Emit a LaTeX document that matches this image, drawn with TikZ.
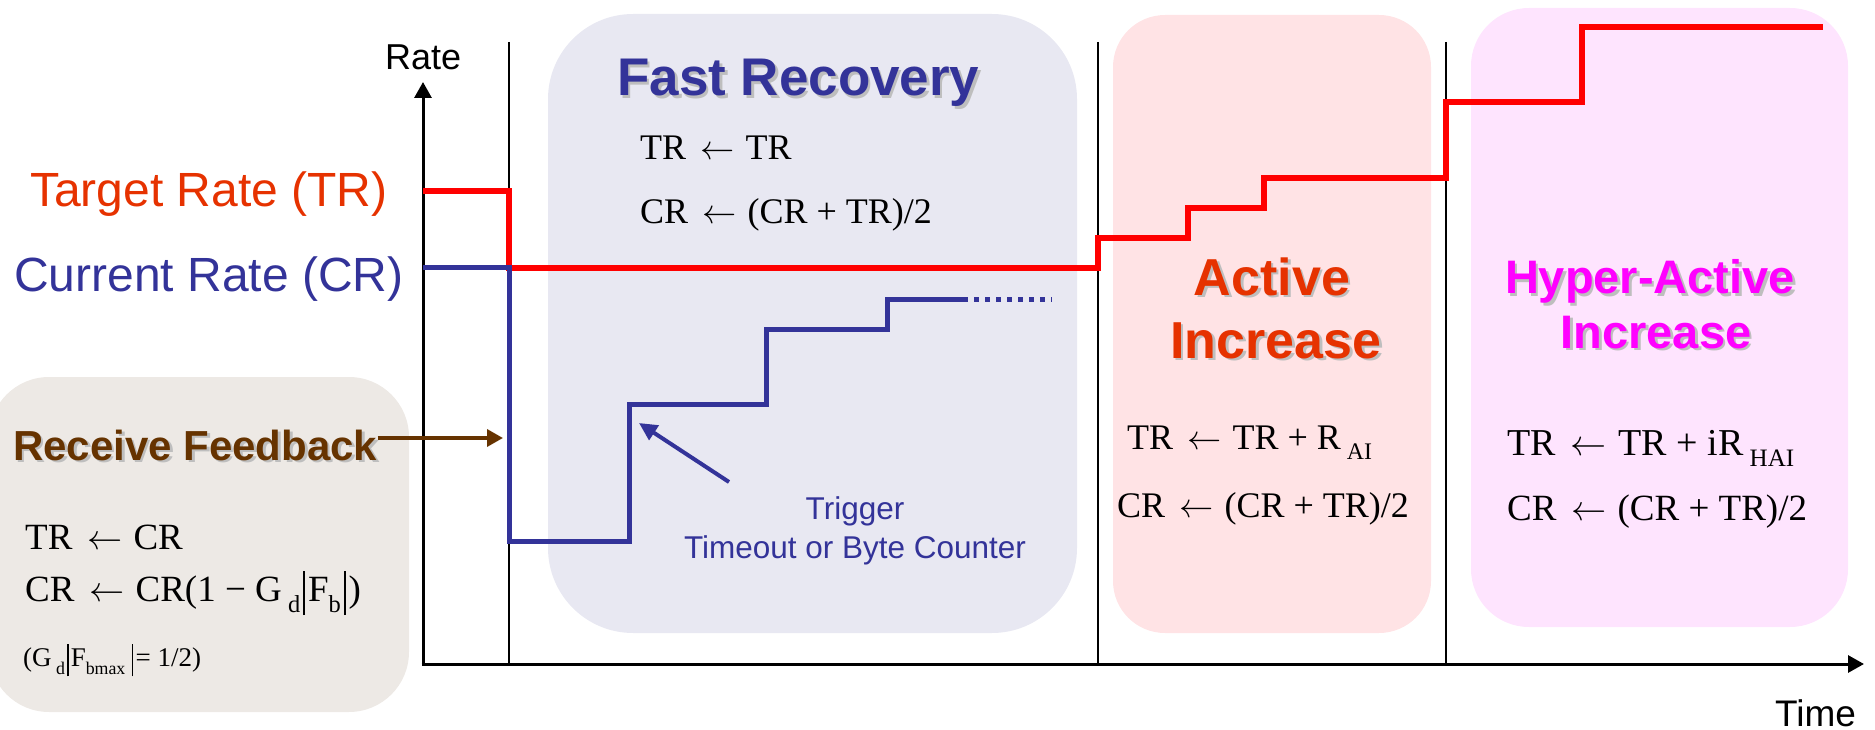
\documentclass[tikz,border=0pt]{standalone}
\usepackage{fontspec}
\usepackage{graphicx}
\setmainfont{Liberation Serif}
\newfontfamily\arial{Liberation Sans}
\usetikzlibrary{arrows.meta}

\definecolor{frblue}{RGB}{51,51,153}
\definecolor{aired}{RGB}{230,50,0}
\definecolor{hamag}{RGB}{255,0,255}
\definecolor{fbbrown}{RGB}{102,51,0}
\definecolor{rfbox}{RGB}{237,233,229}
\definecolor{frbox}{RGB}{232,232,242}
\definecolor{aibox}{RGB}{255,227,229}
\definecolor{habox}{RGB}{254,228,254}
\definecolor{shadowgray}{RGB}{190,190,190}

\newcommand\fsz[1]{\fontsize{#1}{#1}\selectfont}
% assignment arrow, tall absolute-value bar and lowered small subscript
\newcommand\larr{\hspace{0.4em}\resizebox{0.95em}{!}{$\leftarrow$}\hspace{0.3em}}
\newcommand\tallbar{\kern0.08em\raisebox{-0.38em}{\rule{0.05em}{1.18em}}\kern0.08em}
\newcommand\lowsub[1]{\raisebox{-0.3em}{\scalebox{0.66}{#1}}}
% bold title text with a soft grey drop shadow
\newcommand\withshadow[1]{\leavevmode\rlap{\kern2.5pt\raisebox{-2.5pt}{\textcolor{shadowgray}{#1}}}#1}

\begin{document}
\begin{tikzpicture}[x=1pt,y=-1pt,
  phase/.style={draw=none, inner sep=0pt, outer sep=0pt},
  txt/.style={inner sep=0pt, anchor=base west},
  ctxt/.style={inner sep=0pt, anchor=base},
  eq/.style={txt, font=\fsz{36}},
  title/.style={ctxt, font=\arial\bfseries},
  divider/.style={line width=1.8pt, black},
  axis/.style={line width=3pt, -{Triangle[length=16pt,width=17pt]}},
  rateline/.style={line width=5.5pt},
]
\useasboundingbox (0,0) rectangle (1875,730);

% phase backgrounds
\node[phase, fill=rfbox, rounded corners=60pt, minimum width=420pt, minimum height=335pt] (rfbg) at (199,544.5) {};
\node[phase, fill=frbox, rounded corners=85pt, minimum width=529pt, minimum height=619pt] (frbg) at (812.5,323.5) {};
\node[phase, fill=aibox, rounded corners=52pt, minimum width=318pt, minimum height=618pt] (aibg) at (1272,324) {};
\node[phase, fill=habox, rounded corners=58pt, minimum width=377pt, minimum height=619pt] (habg) at (1659.5,317.5) {};

% phase dividers
\draw[divider] (509,42) -- (509,664);
\draw[divider] (1098,42) -- (1098,664);
\draw[divider] (1446,42) -- (1446,664);

% axes
\coordinate (origin) at (423,664);
\coordinate (ytip) at (423,82);
\coordinate (xtip) at (1864,664);
\draw[axis] (423,665.5) -- (ytip);
\draw[axis] (421.5,664) -- (xtip);
\node[txt, font=\arial\fsz{36}] (ratelbl) at (385,70) {Rate};
\node[txt, font=\arial\fsz{37}] (timelbl) at (1775,726) {Time};

% target rate
\draw[rateline, red] (423,191) -- (509,191) -- (509,268) -- (1098,268)
  -- (1098,238) -- (1188,238) -- (1188,208) -- (1264,208) -- (1264,178)
  -- (1446,178) -- (1446,102) -- (1582,102) -- (1582,27) -- (1823,27);

% current rate
\draw[rateline, frblue, line width=5pt] (423,268) -- (509,268) -- (509,541) -- (629,541)
  -- (629,404) -- (766,404) -- (766,329) -- (887,329) -- (887,299) -- (963,299);
\draw[frblue, line width=5pt, dash pattern=on 5pt off 6pt] (963,299) -- (1052,299);

% rate labels
\node[txt, font=\arial\fsz{48}, text=aired] (tr) at (30,207) {Target Rate (TR)};
\node[txt, font=\arial\fsz{48}, text=frblue] (cr) at (14,291) {Current Rate (CR)};

% receive feedback
\node[txt, font=\arial\bfseries\fsz{42}, text=fbbrown] (rf) at (13,460) {\withshadow{Receive Feedback}};
\coordinate (fbtip) at (503,438);
\draw[fbbrown, line width=3.5pt, -{Triangle[length=16pt,width=17pt]}] (rf.east |- fbtip) -- (fbtip);
\node[txt, font=\fsz{37}] (rf1) at (25,549) {TR\larr CR};
\node[txt, font=\fsz{37}] (rf2) at (25,601) {CR\larr CR(1 − G\,\lowsub{d}\tallbar F\lowsub{b}\tallbar)};
\node[txt, font=\fsz{27}] (rf3) at (23,666) {(G\,\lowsub{d}\tallbar F\lowsub{bmax}\,\tallbar = 1/2)};

% fast recovery
\node[txt, font=\arial\bfseries\fsz{53}, text=frblue] (frt) at (617,96) {\withshadow{Fast Recovery}};
\node[eq] (fr1) at (640,160) {TR\larr TR};
\node[eq] (fr2) at (640,224) {CR\larr (CR + TR)/2};
\coordinate (trigtail) at (729,482);
\coordinate (trigtip) at (639,423);
\draw[frblue, line width=4pt, -{Triangle[length=18pt,width=17pt]}] (trigtail) -- (trigtip);
\node[ctxt, font=\arial\fsz{31.5}, text=frblue] (trig1) at (855,519) {Trigger};
\node[ctxt, font=\arial\fsz{31.5}, text=frblue] (trig2) at (855,558) {Timeout or Byte Counter};

% active increase
\node[title, font=\arial\bfseries\fsz{52}, text=aired] (ai1) at (1272,295) {\withshadow{Active}};
\node[title, font=\arial\bfseries\fsz{52}, text=aired] (ai2) at (1276,358) {\withshadow{Increase}};
\node[eq] (ai3) at (1127,449) {TR\larr TR + R\,\lowsub{AI}};
\node[eq] (ai4) at (1117,517) {CR\larr (CR + TR)/2};

% hyper-active increase
\node[title, font=\arial\bfseries\fsz{47}, text=hamag] (ha1) at (1650,294) {\withshadow{Hyper-Active}};
\node[title, font=\arial\bfseries\fsz{47}, text=hamag] (ha2) at (1656,348) {\withshadow{Increase}};
\node[txt, font=\fsz{38}] (ha3) at (1507,455) {TR\larr TR + iR\,\lowsub{HAI}};
\node[txt, font=\fsz{37}] (ha4) at (1507,520) {CR\larr (CR + TR)/2};
\end{tikzpicture}
\end{document}
